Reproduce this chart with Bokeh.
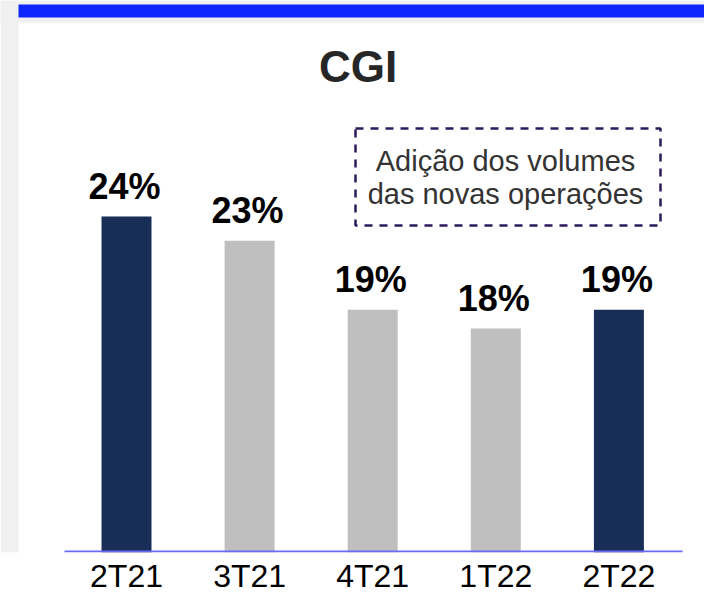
from bokeh.plotting import figure
from bokeh.models import Range1d, FixedTicker
from bokeh.core.properties import value
from bokeh.embed import file_html
from bokeh.resources import INLINE

# ---- data ----
categories = ["2T21", "3T21", "4T21", "1T22", "2T22"]
values = [24.0, 22.7, 19.0, 18.0, 19.0]
value_labels = ["24%", "23%", "19%", "18%", "19%"]
highlight = [True, False, False, False, True]
title_text = "CGI"
note_lines = ["Adição dos volumes", "das novas operações"]

NAVY = "#182d57"
GRAY = "#bfbfbf"
FONT = "Liberation Sans"

W, H = 704, 603
BOTTOM = 51
FRAME_H = H - BOTTOM
STEP = 123.1            # px per category
FIRST_CENTER = 126.0    # px of first bar centre
Y0 = 6.0                # value at baseline
PX_PER_UNIT = 18.67

x_start = -FIRST_CENTER / STEP
x_end = x_start + W / STEP
y_end = Y0 + FRAME_H / PX_PER_UNIT

p = figure(width=W, height=H, output_backend="svg", toolbar_location=None,
           x_range=Range1d(x_start, x_end), y_range=Range1d(Y0, y_end),
           min_border_left=0, min_border_right=0, min_border_top=0,
           min_border_bottom=BOTTOM, outline_line_color=None,
           background_fill_color="white", border_fill_color="white")
p.grid.visible = False
p.yaxis.visible = False

# pixel-coordinate ranges for decorations (y downward)
p.extra_x_ranges = {"px": Range1d(0, W)}
p.extra_y_ranges = {"px": Range1d(FRAME_H, 0)}
px = dict(x_range_name="px", y_range_name="px")

# page decorations: gray strip, gray top gap, blue header bar
p.quad(left=[0], right=[18], top=[0], bottom=[FRAME_H], fill_color="#f0f0f0",
       line_color=None, **px)
p.quad(left=[0], right=[W], top=[0], bottom=[22], fill_color="#f0f0f0",
       line_color=None, **px)
p.quad(left=[18], right=[W], top=[4], bottom=[17], fill_color="#0f27ff",
       line_color=None, **px)

# title
p.text(x=[357.5], y=[66], text=[title_text], text_font=value(FONT),
       text_font_style="bold", text_font_size="44px", text_color="#262626",
       text_align="center", text_baseline="alphabetic", **px)

# bars
xs = list(range(len(categories)))
colors = [NAVY if h else GRAY for h in highlight]
p.vbar(x=xs, top=values, bottom=Y0, width=0.406, fill_color=colors,
       line_color=None)

# value labels
p.text(x=xs, y=values, text=value_labels, y_offset=-30, x_offset=-2,
       text_font=value(FONT), text_font_style="bold", text_font_size="36px",
       text_color="black", text_align="center", text_baseline="alphabetic")

# baseline
p.segment(x0=[64], x1=[682], y0=[FRAME_H - 1], y1=[FRAME_H - 1],
          line_color="#6b6bf5", line_width=2, **px)

# note box
p.quad(left=[355], right=[660], top=[128], bottom=[225], fill_color=None,
       line_color="#2b1a5c", line_width=2.5, line_dash="8 7", **px)
p.text(x=[505, 505], y=[160, 193], text=note_lines, text_font=value(FONT),
       text_font_size="29px", text_color="#333333", text_align="center",
       text_baseline="alphabetic", **px)

# category axis
ax = p.xaxis[0]
ax.ticker = FixedTicker(ticks=xs)
ax.major_label_overrides = {i: c for i, c in enumerate(categories)}
ax.axis_line_color = None
ax.major_tick_line_color = None
ax.minor_tick_line_color = None
ax.major_tick_out = 0
ax.major_label_standoff = 5
ax.major_label_text_font = FONT
ax.major_label_text_font_size = "32px"
ax.major_label_text_color = "black"

open("out.html", "w").write(file_html(p, INLINE))
